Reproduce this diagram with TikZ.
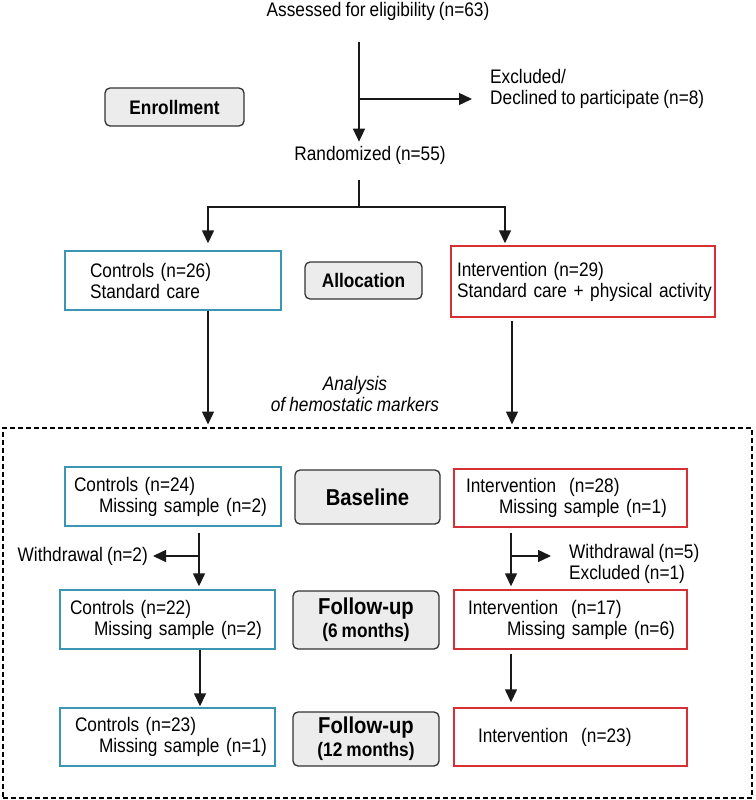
\documentclass[tikz,border=0pt]{standalone}
\usepackage{fontspec}
\setmainfont{Liberation Sans}[FakeStretch=0.88, WordSpace=0.85]
\usetikzlibrary{arrows.meta}

\definecolor{ctlblue}{RGB}{60,150,178}
\definecolor{intred}{RGB}{214,48,52}
\definecolor{phasegray}{RGB}{236,236,236}
\newcommand\diagfont{\fontsize{19.6}{21}\selectfont}
\newcommand\phasefont{\fontsize{23}{23}\selectfont}
\newcommand\pad[1]{\hspace*{#1}}

\tikzset{
  txt/.style={inner sep=2pt, align=left, font=\diagfont},
  armbox/.style={txt, rectangle, line width=1.4pt, inner ysep=0pt, inner xsep=2pt},
  ctl/.style 2 args={armbox, draw=ctlblue, text width=#1, minimum height=#2},
  int/.style 2 args={armbox, draw=intred, text width=#1, minimum height=#2},
  phase/.style={draw=black!80, fill=phasegray, rounded corners=5pt, line width=1.3pt,
    align=center, inner sep=0pt, font=\bfseries\diagfont},
  frame/.style={draw=black, line width=2pt, dash pattern=on 5pt off 3pt,
    minimum width=749pt, minimum height=370pt, inner sep=0pt},
  line/.style={draw=black!90, line width=1.4pt},
  arr/.style={line, -{Triangle[length=13pt, width=12pt]}}
}

\begin{document}
\begin{tikzpicture}[x=1pt, y=-1pt]
  \useasboundingbox (0,0) rectangle (755,800);

  \node[txt] (elig) at (378,11) {Assessed for eligibility (n=63)};
  \node[phase, minimum width=139pt, minimum height=38pt] (enrol) at (174.5,107) {Enrollment};
  \node[txt, anchor=west] (excl) at (488,88.5) {Excluded/\\Declined to participate (n=8)};
  \node[txt] (rand) at (370,155) {Randomized (n=55)};
  \coordinate (trunk) at (359,99);
  \coordinate (split) at (359,207);

  \node[ctl={212pt}{59pt}] (c26) at (173,280.5) {\pad{23pt}Controls (n=26)\\\pad{23pt}Standard care};
  \node[phase, minimum width=117pt, minimum height=37pt] (alloc) at (363.5,280.5) {Allocation};
  \node[int={260pt}{71pt}] (i29) at (583,281.5) {\pad{4pt}Intervention (n=29)\\\pad{4pt}Standard care + physical activity};

  \node[txt, align=center, font=\itshape\diagfont] (anal) at (355,393.5) {Analysis\\of hemostatic markers};
  \node[frame] (frame) at (377,612.5) {};

  \node[ctl={212pt}{59pt}] (c24) at (173,496.5) {\pad{7pt}Controls (n=24)\\\pad{32pt}Missing sample (n=2)};
  \node[phase, minimum width=145pt, minimum height=54pt, font=\bfseries\phasefont] (base) at (367.5,497) {Baseline};
  \node[int={229pt}{58pt}] (i28) at (570.5,498) {\pad{10pt}Intervention\ \ (n=28)\\\pad{43pt}Missing sample (n=1)};

  \coordinate (wL) at (199,556);
  \coordinate (wR) at (511,556);
  \node[txt, anchor=east] (wd2) at (150,556) {Withdrawal (n=2)};
  \node[txt, anchor=west] (wd5) at (567,563.5) {Withdrawal (n=5)\\Excluded (n=1)};

  \node[ctl={211pt}{59pt}] (c22) at (167.5,619.5) {\pad{8pt}Controls (n=22)\\\pad{32pt}Missing sample (n=2)};
  \node[phase, minimum width=146pt, minimum height=58pt, font=\bfseries\phasefont] (fu6) at (366,620) {Follow-up\\{\diagfont(6 months)}};
  \node[int={229pt}{59pt}] (i17) at (570.5,619.5) {\pad{12pt}Intervention\ \ (n=17)\\\pad{51pt}Missing sample (n=6)};

  \node[ctl={211pt}{58pt}] (c23) at (167.5,737) {\pad{13pt}Controls (n=23)\\\pad{37pt}Missing sample (n=1)};
  \node[phase, minimum width=146pt, minimum height=54pt, font=\bfseries\phasefont] (fu12) at (366,739) {Follow-up\\{\diagfont(12 months)}};
  \node[int={229pt}{58pt}] (i23) at (570.5,737) {\pad{22pt}Intervention\ \ (n=23)};

  \draw[arr, shorten <=20pt, shorten >=2pt] (elig.south -| trunk) -- (rand.north -| trunk);
  \draw[arr, shorten >=16pt] (trunk) -- (trunk -| excl.west);
  \draw[line, shorten <=14pt] (rand.south -| split) -- (split);
  \draw[arr, shorten >=7pt] (split) -| (c26.north -| 208,0);
  \draw[arr, shorten >=2pt] (split) -| (i29.north -| 505,0);
  \draw[arr, shorten >=2pt] (c26.south -| 208,0) -- (frame.north -| 208,0);
  \draw[arr, shorten <=3pt, shorten >=2pt] (i29.south -| 512,0) -- (frame.north -| 512,0);

  \draw[arr, shorten <=6pt, shorten >=3pt] (c24.south -| wL) -- (c22.north -| wL);
  \draw[arr, shorten >=3pt] (wL) -- (wd2);
  \draw[arr, shorten <=5pt, shorten >=3pt] (i28.south -| wR) -- (i17.north -| wR);
  \draw[arr, shorten >=16pt] (wR) -- (wR -| wd5.west);
  \draw[arr, shorten >=1pt] (c22.south -| 200,0) -- (c23.north -| 200,0);
  \draw[arr, shorten <=4pt, shorten >=5pt] (i17.south -| 511,0) -- (i23.north -| 511,0);
\end{tikzpicture}
\end{document}
